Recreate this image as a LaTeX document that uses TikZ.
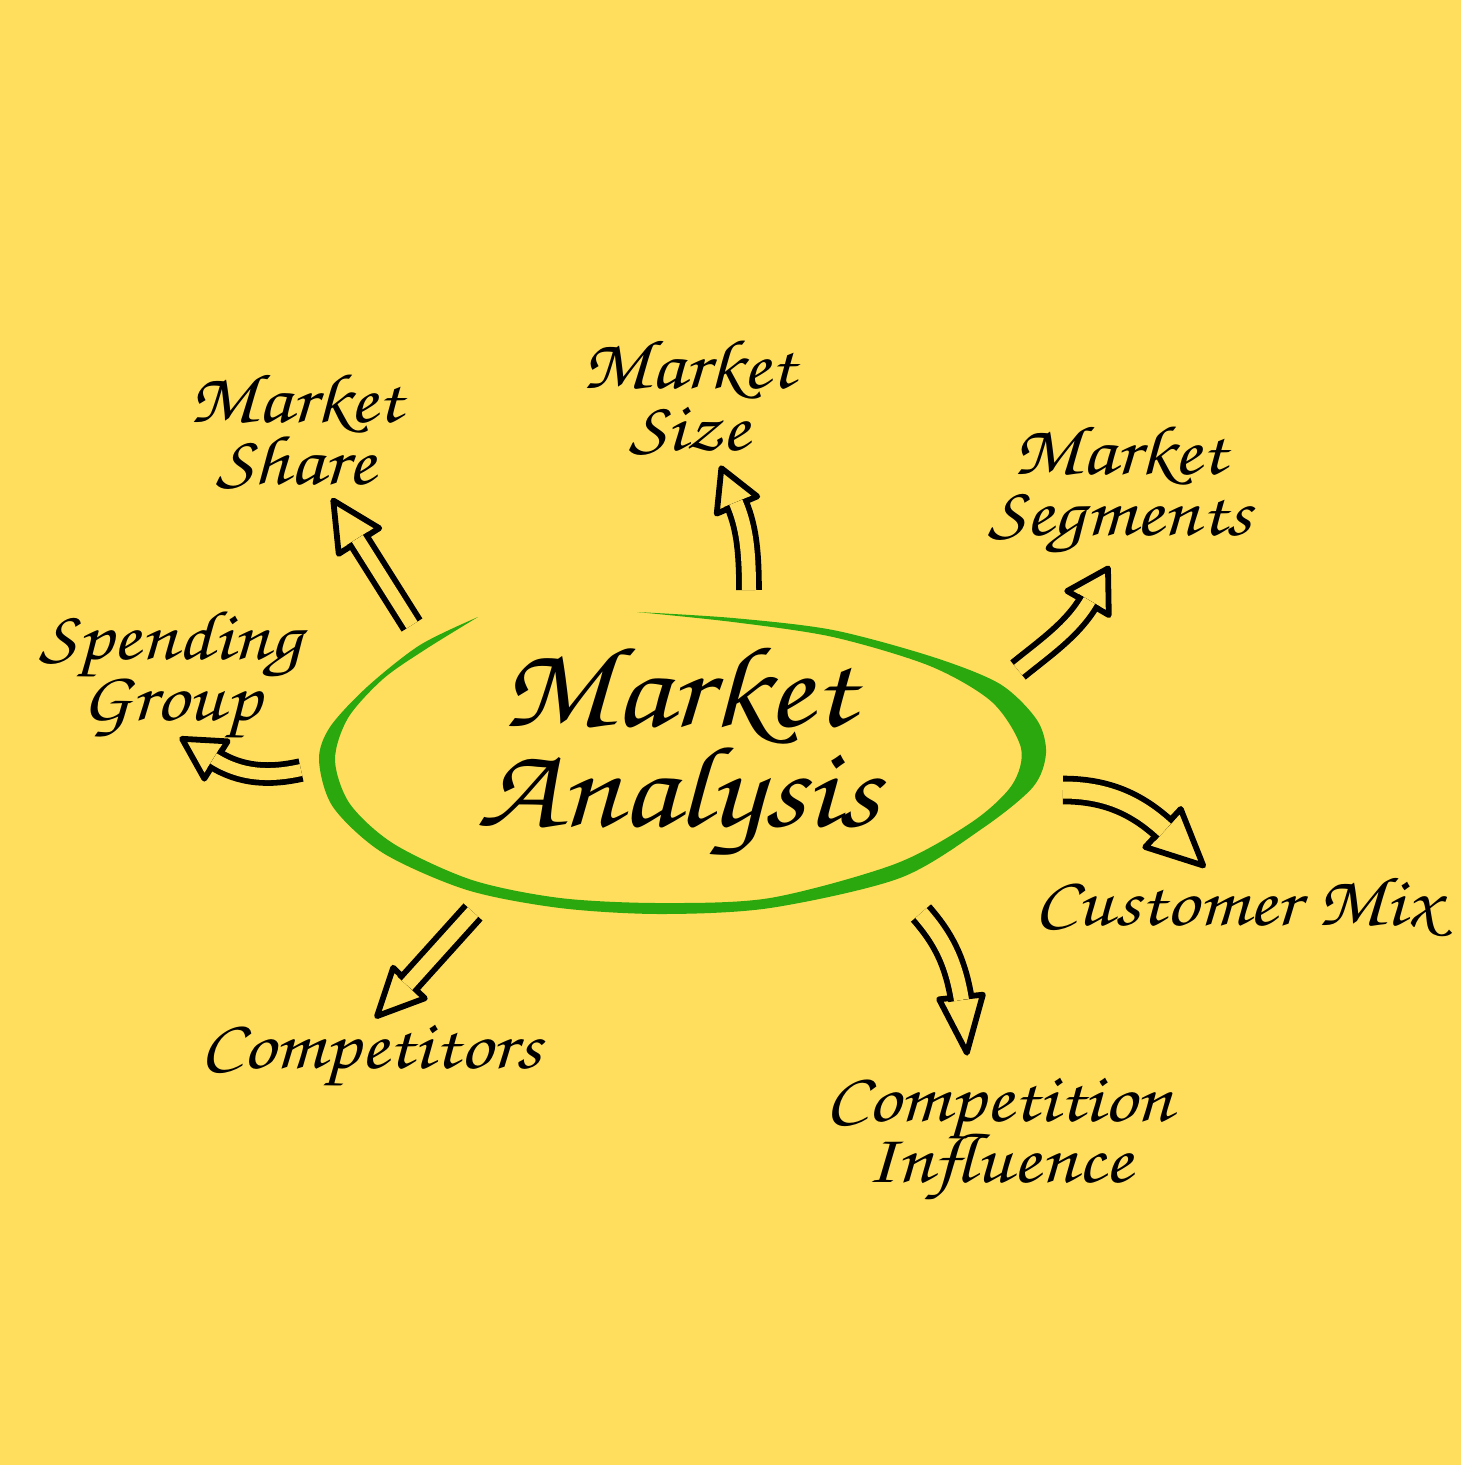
\documentclass[tikz,border=0pt]{standalone}
\usepackage[T1,TU]{fontenc}
\usetikzlibrary{calc}
\definecolor{bg}{RGB}{255,222,94}
\definecolor{grn}{RGB}{42,168,14}
\lineskiplimit=-100pt
\lineskip=0pt
\newcommand\handfont{\fontencoding{T1}\fontfamily{pzc}\fontseries{mb}\fontshape{it}\selectfont}
\newcommand\wtxt[1]{\scalebox{1.15}[1]{#1}}
\tikzset{
  lbl/.style={font=\handfont\fontsize{20}{17.4}\selectfont, align=center, text=black, inner sep=0pt},
  big/.style={font=\handfont\fontsize{33}{28.5}\selectfont, align=center, text=black, inner sep=0pt},
  shaft/.style={draw=black, line width=0.058cm, double=bg, double distance=#1, line cap=butt, shorten >=-0.03cm},
  shaft/.default=0.13cm,
  headst/.style={draw=black, fill=bg, line width=0.058cm, line join=round},
}
% #1 base point, #2 angle, #3 length, #4 half width
\newcommand\arrowhead[4]{%
  \filldraw[headst] ($#1+(#2+90:#4)$) -- ($#1+(#2:#3)$) -- ($#1+(#2-90:#4)$) -- cycle;}
\begin{document}
\begin{tikzpicture}[x=0.01cm,y=-0.01cm]
\fill[bg] (0,0) rectangle (1461,1465);
\useasboundingbox (0,0) rectangle (1461,1465);

% green hand-drawn ellipse
\fill[grn] plot[smooth] coordinates {(478,617) (420,645) (367,687) (330,727) (319,760) (333,807) (383,853) (467,890) (560,908) (660,914) (770,908) (900,878) (983,828) (1033,787) (1046,753) (1037,720) (1000,684) (933,657) (833,630) (733,618) (637,612)}
  -- plot[smooth] coordinates {(637,612) (733,622) (833,637) (930,666) (992,702) (1021,748) (1012,785) (972,822) (895,864) (770,898) (660,903) (560,898) (472,880) (394,844) (350,804) (335,760) (348,718) (383,679) (426,649) (478,617)} -- cycle;

\node[big] (center) at (678,753) {\wtxt{Market}\\\wtxt{Analysis}};

% labels
\node[lbl] (share) at (296,431) {\wtxt{Market}\\\wtxt{Share}};
\node[lbl] (size) at (689,397) {\wtxt{Market}\\\wtxt{Size}};
\node[lbl] (seg) at (1120,491) {\wtxt{Market}\\\wtxt{Segments}};
\node[lbl] (spend) at (171,676) {\wtxt{Spending}\\\wtxt{Group}};
\node[lbl, anchor=base] (mix) at (1237,925) {\wtxt{Customer Mix}};
\node[lbl, anchor=base] (comp) at (371,1068) {\wtxt{Competitors}};
\node[lbl] (infl) at (999,1141) {\wtxt{Competition}\\\wtxt{Influence}};

% arrow coordinates
\coordinate (a1s) at (412,625); \coordinate (a1e) at (359,541);
\coordinate (a2s) at (749,590); \coordinate (a2e) at (737,505);
\coordinate (a3s) at (1018,670); \coordinate (a3e) at (1088,603);
\coordinate (a4s) at (1063,790); \coordinate (a4e) at (1163,828);
\coordinate (a5s) at (921,913); \coordinate (a5e) at (961,997);
\coordinate (a6s) at (473,912); \coordinate (a6e) at (409,983);
\coordinate (a7s) at (301,770); \coordinate (a7e) at (216,760);

% Market Share
\arrowhead{(a1e)}{-122.4}{48}{24}
\draw[shaft=0.13cm] (a1s) -- (a1e);
% Market Size
\arrowhead{(a2e)}{-113}{40}{22}
\draw[shaft=0.14cm] (a2s) .. controls (749,545) and (745,524) .. (a2e);
% Market Segments
\arrowhead{(a3e)}{-60}{40}{24}
\draw[shaft=0.13cm] (a3s) .. controls (1045,648) and (1073,629) .. (a3e);
% Customer Mix
\arrowhead{(a4e)}{43}{55}{26}
\draw[shaft=0.17cm] (a4s) .. controls (1105,790) and (1136,803) .. (a4e);
% Competition Influence
\arrowhead{(a5e)}{84}{56}{22}
\draw[shaft=0.15cm] (a5s) .. controls (942,937) and (955,960) .. (a5e);
% Competitors
\arrowhead{(a6e)}{134}{46}{22}
\draw[shaft=0.14cm] (a6s) -- (a6e);
% Spending Group
\arrowhead{(a7e)}{212}{40}{22}
\draw[shaft=0.12cm] (a7s) .. controls (270,777) and (241,776) .. (a7e);
\end{tikzpicture}
\end{document}
